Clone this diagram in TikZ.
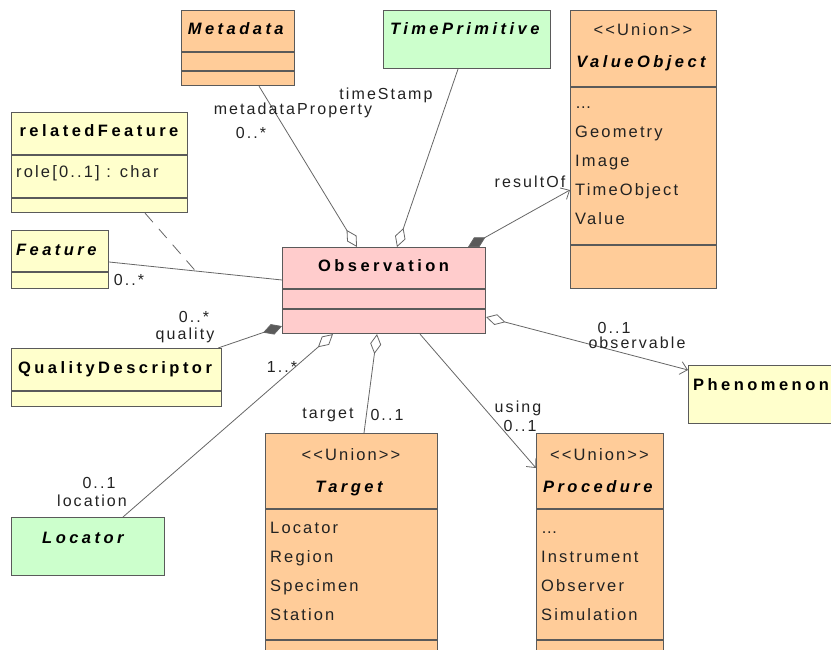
\documentclass[tikz,border=0pt]{standalone}
\usepackage{fontspec}
\setmainfont{Liberation Sans}
\newfontfamily\txtf[LetterSpace=13]{Liberation Sans}
\newfontfamily\hdf[LetterSpace=21]{Liberation Sans}
\usetikzlibrary{arrows.meta,calc}
\definecolor{Orc}{HTML}{FFCC99}
\definecolor{Grc}{HTML}{CCFFCC}
\definecolor{Ylc}{HTML}{FFFFCC}
\definecolor{Pkc}{HTML}{FFCCCC}
\definecolor{edge}{HTML}{5A5A5A}
\definecolor{wire}{HTML}{666666}
\definecolor{ink}{HTML}{222222}
\tikzset{
  cls/.style={draw=edge, line width=1.1pt, inner sep=0pt, anchor=north west},
  ttl/.style={font=\hdf\fontsize{16.5}{20}\selectfont\bfseries, anchor=base, inner sep=0pt},
  itm/.style={font=\txtf\fontsize{16.5}{20}\selectfont, text=ink, anchor=base west, inner sep=0pt},
  lbl/.style={font=\txtf\fontsize{16}{20}\selectfont, text=ink, anchor=base, inner sep=0pt},
  assoc/.style={draw=wire, line width=0.8pt},
  agg/.style={assoc, {Diamond[open, length=20pt, width=11pt]}-},
  comp/.style={assoc, {Diamond[length=20pt, width=11pt, fill=edge]}-},
  nav/.style={assoc, -{Straight Barb[length=7pt, width=13pt]}},
  aggnav/.style={assoc, {Diamond[open, length=20pt, width=11pt]}-{Straight Barb[length=7pt, width=13pt]}},
  compnav/.style={assoc, {Diamond[length=20pt, width=11pt, fill=edge]}-{Straight Barb[length=7pt, width=13pt]}},
}
\newcommand{\clsline}[2]{\draw[cls] ($(#1.north west)+(0,#2)$) -- ($(#1.north east)+(0,#2)$);}

\begin{document}
\begin{tikzpicture}[x=1pt, y=-1pt]
  \useasboundingbox (0,0) rectangle (831,650);
  \clip (0,0) rectangle (831,650);
  % classes
  \node[cls, fill=Orc, minimum width=113, minimum height=75] (meta) at (181,10) {};
  \clsline{meta}{42} \clsline{meta}{61}
  \node[ttl] (metaT) at (237.5,35) {\textit{Metadata}};

  \node[cls, fill=Grc, minimum width=167, minimum height=58] (timep) at (383,10) {};
  \node[ttl] (timepT) at (466.5,35) {\textit{TimePrimitive}};

  \node[cls, fill=Orc, minimum width=146, minimum height=278] (val) at (570,10) {};
  \clsline{val}{77} \clsline{val}{235}
  \node[lbl, font=\txtf\fontsize{16.5}{20}\selectfont] (valS) at (643,36) {<<Union>>};
  \node[ttl] (valT) at (643,68) {\textit{ValueObject}};
  \foreach \txt [count=\i from 0] in {\dots,Geometry,Image,TimeObject,Value}
    \node[itm] (valI\i) at (575,{109+29*\i}) {\txt};

  \node[cls, fill=Ylc, minimum width=176, minimum height=100] (relf) at (11,112) {};
  \clsline{relf}{43} \clsline{relf}{86}
  \node[ttl] (relfT) at (99,137) {relatedFeature};
  \node[itm] (relfI) at (16,178) {role[0..1] : char};

  \node[cls, fill=Ylc, minimum width=97, minimum height=58] (feat) at (11,230) {};
  \clsline{feat}{42}
  \node[ttl] (featT) at (58,255) {\textit{Feature}};

  \node[cls, fill=Pkc, minimum width=203, minimum height=86] (obs) at (282,247) {};
  \clsline{obs}{42} \clsline{obs}{62}
  \node[ttl] (obsT) at (383.5,272) {Observation};

  \node[cls, fill=Ylc, minimum width=210, minimum height=58] (qual) at (11,348) {};
  \clsline{qual}{43}
  \node[ttl] (qualT) at (115,373) {QualityDescriptor};

  \node[cls, fill=Ylc, minimum width=160, minimum height=58] (phen) at (688,365) {};
  \node[ttl, anchor=base west] (phenT) at (693,390) {Phenomenon};

  \node[cls, fill=Grc, minimum width=153, minimum height=58] (loc) at (11,517) {};
  \node[ttl] (locT) at (85,543) {\textit{Locator}};

  \node[cls, fill=Orc, minimum width=172, minimum height=240] (targ) at (265,433) {};
  \clsline{targ}{76} \clsline{targ}{207}
  \node[lbl, font=\txtf\fontsize{16.5}{20}\selectfont] (targS) at (351,460) {<<Union>>};
  \node[ttl] (targT) at (351,492) {\textit{Target}};
  \foreach \txt [count=\i from 0] in {Locator,Region,Specimen,Station}
    \node[itm] (targI\i) at (270,{533+29*\i}) {\txt};

  \node[cls, fill=Orc, minimum width=127, minimum height=240] (proc) at (536,433) {};
  \clsline{proc}{76} \clsline{proc}{207}
  \node[lbl, font=\txtf\fontsize{16.5}{20}\selectfont] (procS) at (599.5,460) {<<Union>>};
  \node[ttl] (procT) at (599.5,492) {\textit{Procedure}};
  \foreach \txt [count=\i from 0] in {\dots,Instrument,Observer,Simulation}
    \node[itm] (procI\i) at (541,{533+29*\i}) {\txt};

  % associations
  \draw[agg] ($(obs.north west)+(75,0)$) -- ($(meta.south west)+(78,0)$);
  \draw[agg] ($(obs.north west)+(115,0)$) -- ($(timep.south west)+(75,0)$);
  \draw[compnav] ($(obs.north west)+(186,0)$) -- ($(val.north west)+(0,180)$);
  \draw[assoc] ($(feat.north east)+(0,32)$) -- coordinate[pos=0.5] (featMid) ($(obs.north west)+(0,33)$);
  \draw[assoc, dash pattern=on 12pt off 9pt] ($(relf.south west)+(134,0)$) -- (featMid);
  \draw[comp] ($(obs.south west)+(0,-8)$) -- ($(qual.north east)+(-4,0)$);
  \draw[agg] ($(obs.south west)+(51,0)$) -- ($(loc.north west)+(112,0)$);
  \draw[agg] ($(obs.south west)+(95,0)$) -- ($(targ.north west)+(99,0)$);
  \draw[nav] ($(obs.south west)+(138,0)$) -- ($(proc.north west)+(0,35)$);
  \draw[aggnav] ($(obs.south east)+(0,-17)$) -- ($(phen.north west)+(0,5)$);

  % role names and multiplicities
  \node[lbl] (lMeta) at (293,115) {metadataProperty};
  \node[lbl] (mMeta) at (251,139) {0..*};
  \node[lbl] (lTime) at (386,100) {timeStamp};
  \node[lbl] (lVal) at (530,188) {resultOf};
  \node[lbl] (mFeat) at (129,285) {0..*};
  \node[lbl] (mQual) at (194,323) {0..*};
  \node[lbl] (lQual) at (185,339) {quality};
  \node[lbl] (mObsLoc) at (282,372) {1..*};
  \node[lbl] (mLoc) at (99,488) {0..1};
  \node[lbl] (lLoc) at (92,506) {location};
  \node[lbl] (lTarg) at (328,418) {target};
  \node[lbl] (mTarg) at (387,420) {0..1};
  \node[lbl] (lProc) at (518,412) {using};
  \node[lbl] (mProc) at (520,431) {0..1};
  \node[lbl] (mPhen) at (614,333) {0..1};
  \node[lbl] (lPhen) at (637,348) {observable};
\end{tikzpicture}
\end{document}
